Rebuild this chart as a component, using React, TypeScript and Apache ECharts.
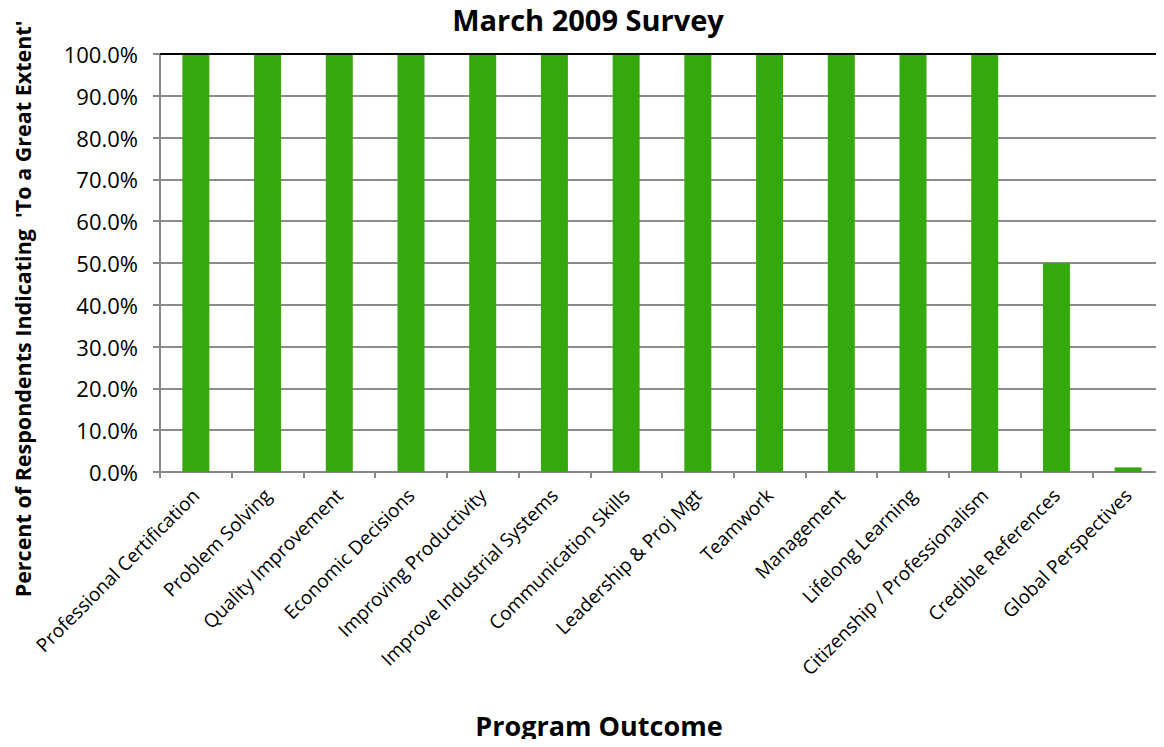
import React, { useEffect, useRef } from "react";
import * as echarts from "echarts";

const categories = [
  "Professional Certification",
  "Problem Solving",
  "Quality Improvement",
  "Economic Decisions",
  "Improving Productivity",
  "Improve Industrial Systems",
  "Communication Skills",
  "Leadership & Proj Mgt",
  "Teamwork",
  "Management",
  "Lifelong Learning",
  "Citizenship / Professionalism",
  "Credible References",
  "Global Perspectives",
];
const values = [1, 1, 1, 1, 1, 1, 1, 1, 1, 1, 1, 1, 0.5, 0.011];

const FONT = "'Open Sans', Lato, sans-serif";

export default function App() {
  const ref = useRef<HTMLDivElement>(null);
  useEffect(() => {
    if (!ref.current) return;
    const chart = echarts.init(ref.current, null, { renderer: "svg" });
    chart.setOption({
      animation: false,
      backgroundColor: "#ffffff",
      grid: { left: 160, right: -12, top: 54, bottom: 275, containLabel: false },
      xAxis: {
        type: "category",
        data: categories,
        axisLine: { lineStyle: { color: "#888888", width: 2 } },
        axisTick: { show: true, length: 6, lineStyle: { color: "#888888", width: 2 } },
        axisLabel: {
          rotate: 45,
          interval: 0,
          margin: 20,
          fontSize: 19,
          color: "#000000",
          fontFamily: FONT,
        },
      },
      yAxis: {
        type: "value",
        min: 0,
        max: 1,
        interval: 0.1,
        axisLine: { show: true, lineStyle: { color: "#888888", width: 2 } },
        axisTick: { show: true, length: 7, lineStyle: { color: "#888888", width: 2 } },
        splitLine: { lineStyle: { color: "#8c8c8c", width: 2 } },
        axisLabel: {
          margin: 22,
          fontSize: 22,
          color: "#000000",
          fontFamily: FONT,
          formatter: (v: number) => (v * 100).toFixed(1) + "%",
        },
      },
      series: [
        {
          type: "bar",
          data: values,
          barWidth: 27,
          itemStyle: { color: "#34a80d" },
          markLine: {
            silent: true,
            symbol: "none",
            label: { show: false },
            lineStyle: { color: "#000000", width: 2, type: "solid" },
            data: [{ yAxis: 1 }],
          },
        },
      ],
      graphic: [
        {
          type: "text",
          x: 588,
          y: 19,
          style: {
            text: "March 2009 Survey",
            font: `bold 29px ${FONT}`,
            fill: "#000000",
            align: "center",
            verticalAlign: "middle",
          },
        },
        {
          type: "text",
          x: 599,
          y: 725,
          style: {
            text: "Program Outcome",
            font: `bold 27px ${FONT}`,
            fill: "#000000",
            align: "center",
            verticalAlign: "middle",
          },
        },
        {
          type: "text",
          x: 22,
          y: 309,
          rotation: Math.PI / 2,
          style: {
            text: "Percent of Respondents Indicating  'To a Great Extent'",
            font: `bold 21.5px ${FONT}`,
            fill: "#000000",
            align: "center",
            verticalAlign: "middle",
          },
        },
      ],
    });
    return () => chart.dispose();
  }, []);
  return <div ref={ref} style={{ width: 1164, height: 747, margin: -8 }} />;
}
